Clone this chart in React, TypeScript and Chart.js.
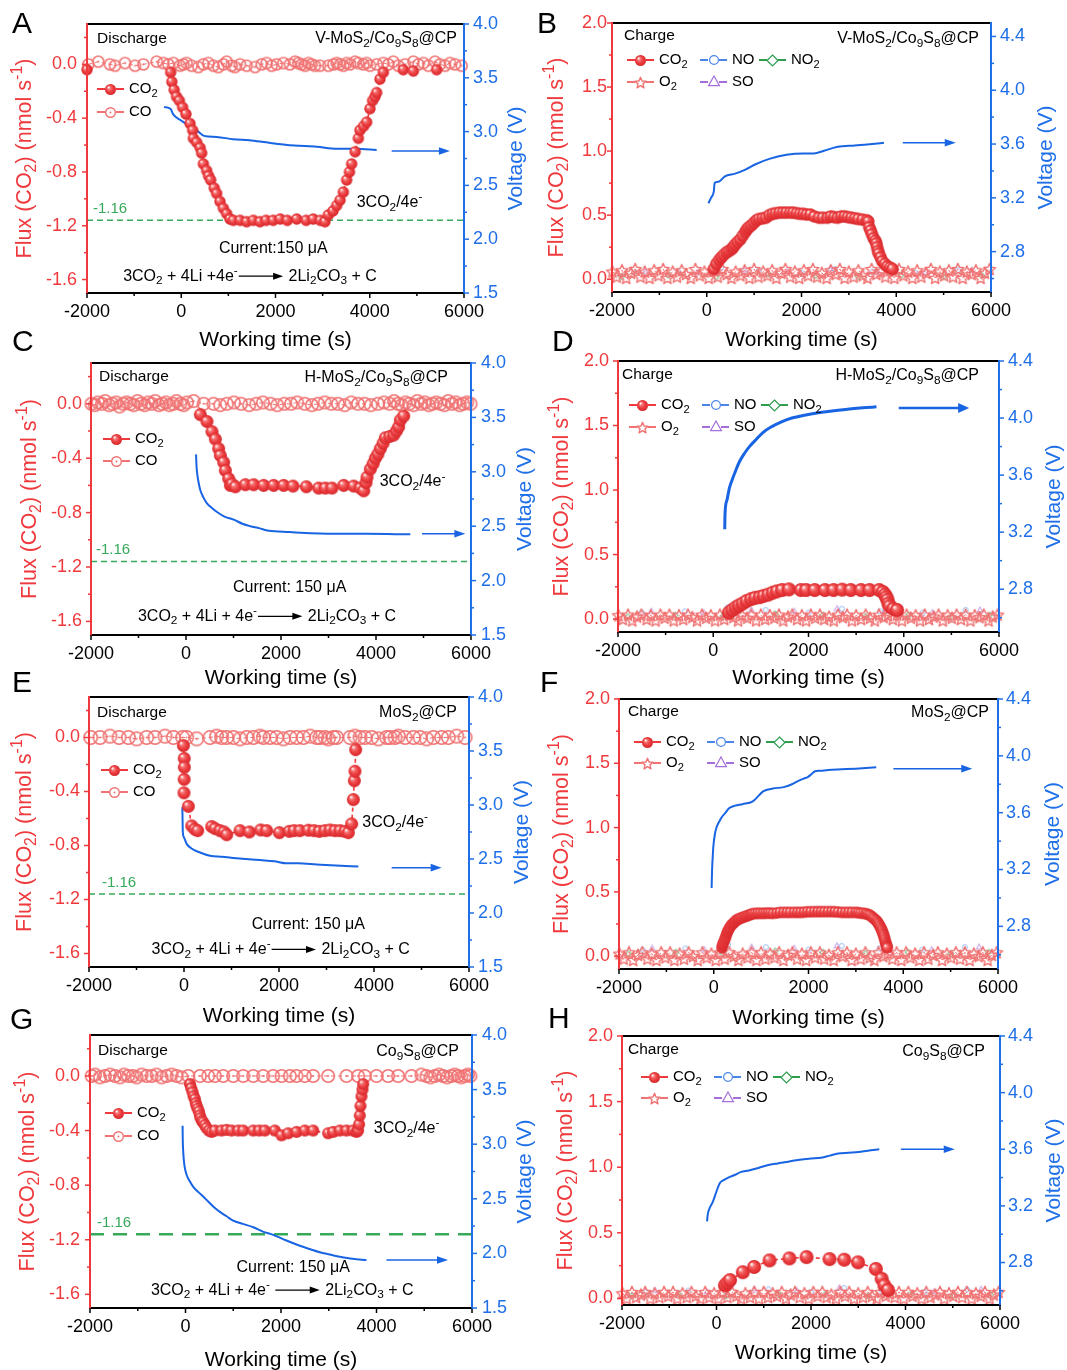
import React, { useEffect, useRef } from 'react';
import { Chart, registerables } from 'chart.js';

Chart.register(...registerables);

const W = 1067;
const H = 1370;
const FONT = '"Liberation Sans", Arial, Helvetica, sans-serif';
const RED = '#ef393c';
const RED_LIGHT = '#f07272';
const BLUE = '#1f6fe8';
const VBLUE = '#1864e2';
const GREEN = '#36a95a';
const NO_BLUE = '#4a86e8';
const NO2_GREEN = '#2e9e4e';
const SO_PURPLE = '#a46fdc';

// ---------- axes ticks ----------
const X_TICKS = [-2000, 0, 2000, 4000, 6000];
const X_MINOR = [-1000, 1000, 3000, 5000];
const DIS_FLUX_TICKS = [-1.6, -1.2, -0.8, -0.4, 0.0];
const DIS_FLUX_MINOR = [-1.4, -1.0, -0.6, -0.2, 0.2];
const DIS_V_TICKS = [1.5, 2.0, 2.5, 3.0, 3.5, 4.0];
const DIS_V_MINOR = [1.75, 2.25, 2.75, 3.25, 3.75];
const CH_FLUX_TICKS = [0, 0.5, 1.0, 1.5, 2.0];
const CH_FLUX_MINOR = [0.25, 0.75, 1.25, 1.75];
const CH_V_TICKS = [2.8, 3.2, 3.6, 4.0, 4.4];
const CH_V_MINOR = [2.6, 3.0, 3.4, 3.8, 4.2];
const REF_FLUX = -1.16;
const REF_SPAN = [-2000, 6000];

// ---------- Panel A : discharge V-MoS2/Co9S8@CP ----------
const A_CO2_T = [-2000,-225,-200,-150,-100,-40,30,100,186,242,256,327,400,433,469,539,580,624,700,751,822,893,964,1034,1105,1250,1388,1530,1671,1800,1950,2100,2250,2450,2650,2800,2950,3050,3121,3220,3298,3369,3439,3510,3570,3616,3690,3758,3793,3870,3934,4005,4060,4111,4146,4217,4288,4712,4925,5420];
const A_CO2_F = [-0.04,-0.06,-0.13,-0.19,-0.24,-0.27,-0.32,-0.37,-0.44,-0.49,-0.55,-0.58,-0.62,-0.66,-0.74,-0.79,-0.83,-0.86,-0.92,-0.96,-1.02,-1.07,-1.11,-1.15,-1.16,-1.16,-1.17,-1.16,-1.17,-1.16,-1.16,-1.15,-1.16,-1.15,-1.16,-1.15,-1.16,-1.17,-1.12,-1.09,-1.05,-1.01,-0.95,-0.86,-0.8,-0.74,-0.65,-0.55,-0.49,-0.46,-0.43,-0.33,-0.27,-0.24,-0.21,-0.11,-0.06,-0.04,-0.05,-0.04];
const A_CO_T = [-1972,-1760,-1512,-1406,-1194,-981,-805,-522,-380,-274,-168,-27,44,115,221,362,468,575,681,787,893,964,1070,1140,1246,1388,1565,1706,1812,1918,2025,2166,2307,2414,2484,2555,2626,2697,2767,2838,2944,3121,3227,3298,3369,3439,3510,3581,3687,3758,3864,3934,4005,4146,4288,4394,4500,4606,4748,4925,5031,5137,5243,5384,5490,5596,5702,5809,5950];
const A_CO_F = [0.0,0.02,0.0,-0.01,0.01,-0.01,0.0,0.02,0.01,0.0,0.01,-0.01,0.0,0.01,-0.01,-0.02,0.0,0.01,-0.01,-0.02,0.0,0.02,-0.01,-0.02,0.0,-0.01,-0.02,0.0,0.01,-0.01,0.0,0.01,0.0,0.02,0.01,0.0,-0.01,0.01,0.0,-0.01,-0.01,-0.01,0.0,0.01,0.0,-0.01,0.01,0.0,0.02,0.01,0.0,0.01,-0.01,0.0,0.01,0.0,0.02,-0.01,0.0,0.02,0.0,0.01,-0.01,0.02,0.0,-0.01,0.01,0.0,-0.01];
const A_V_T = [-366,-225,-170,-27,186,362,483,750,1100,1450,1800,2166,2400,2873,3300,3700,4146];
const A_V_V = [3.23,3.21,3.16,3.11,3.05,3.0,2.96,2.95,2.93,2.92,2.90,2.88,2.87,2.86,2.84,2.84,2.83];
const A_ARROW = [4465, 5702, 2.82];

// ---------- Panel B : charge V-MoS2/Co9S8@CP ----------
const B_CO2_T = [150,202,260,310,360,419,470,527,560,599,650,707,760,816,850,888,940,996,1050,1105,1180,1249,1320,1393,1460,1538,1610,1682,1760,1827,1900,1970,2043,2110,2188,2270,2368,2450,2549,2621,2690,2765,2840,2910,2980,3054,3130,3198,3290,3379,3410,3429,3460,3487,3520,3559,3580,3596,3615,3632,3670,3704,3760,3812,3870,3920];
const B_CO2_F = [0.08,0.12,0.15,0.17,0.19,0.21,0.22,0.235,0.25,0.27,0.29,0.31,0.34,0.37,0.39,0.405,0.42,0.44,0.46,0.47,0.475,0.48,0.5,0.51,0.515,0.52,0.52,0.52,0.52,0.52,0.515,0.51,0.51,0.505,0.505,0.49,0.48,0.48,0.48,0.49,0.485,0.48,0.49,0.49,0.485,0.48,0.475,0.47,0.465,0.46,0.45,0.405,0.38,0.35,0.32,0.30,0.28,0.25,0.22,0.20,0.17,0.14,0.12,0.10,0.09,0.08];
const B_V_T = [36,90,150,166,250,383,599,816,1032,1321,1682,2043,2260,2476,2765,3126,3487,3740];
const B_V_V = [3.16,3.20,3.25,3.31,3.32,3.36,3.38,3.41,3.45,3.49,3.52,3.53,3.53,3.55,3.58,3.59,3.60,3.61];
const B_ARROW = [4137, 5256, 3.61];

// ---------- shared baseline sampling of charge runs (O2 stars) ----------
const CH_O2_T = [-1990,-1900,-1790,-1700,-1600,-1510,-1400,-1310,-1210,-1110,-1020,-920,-830,-720,-630,-530,-440,-340,-240,-150,-50,40,140,230,330,420,520,610,710,800,900,1000,1090,1190,1280,1380,1470,1570,1660,1760,1860,1950,2050,2140,2240,2330,2430,2530,2620,2720,2810,2910,3000,3100,3200,3290,3390,3480,3580,3670,3770,3860,3960,4060,4150,4250,4340,4440,4530,4630,4730,4820,4920,5010,5110,5200,5300,5400,5490,5590,5680,5780,5870,5970];
const B_O2_F = [0.06,0.02,0.07,0.01,0.05,0.08,0.02,0.06,0.01,0.07,0.03,0.08,0.01,0.06,0.02,0.07,0.04,0.01,0.08,0.03,0.06,0.01,0.07,0.02,0.08,0.04,0.01,0.06,0.03,0.07,0.01,0.08,0.02,0.06,0.03,0.07,0.01,0.05,0.08,0.02,0.06,0.01,0.07,0.03,0.08,0.02,0.05,0.01,0.07,0.04,0.08,0.01,0.06,0.02,0.07,0.03,0.01,0.08,0.04,0.06,0.02,0.07,0.01,0.08,0.03,0.06,0.01,0.07,0.02,0.05,0.08,0.01,0.06,0.03,0.07,0.02,0.08,0.01,0.06,0.04,0.07,0.01,0.05,0.08];
const D_O2_F = [0.03,0.0,0.035,-0.01,0.02,0.035,0.0,0.03,-0.01,0.035,0.01,0.035,-0.01,0.03,0.0,0.035,0.015,-0.01,0.035,0.01,0.03,-0.01,0.035,0.0,0.035,0.015,-0.01,0.03,0.01,0.035,-0.01,0.035,0.0,0.03,0.01,0.035,-0.01,0.02,0.035,0.0,0.03,-0.01,0.035,0.01,0.035,0.0,0.02,-0.01,0.035,0.015,0.035,-0.01,0.03,0.0,0.035,0.01,-0.01,0.035,0.015,0.03,0.0,0.035,-0.01,0.035,0.01,0.03,-0.01,0.035,0.0,0.02,0.035,-0.01,0.03,0.01,0.035,0.0,0.035,-0.01,0.03,0.015,0.035,-0.01,0.02,0.035];
const F_O2_F = [0.02,-0.02,0.03,-0.03,0.01,0.03,-0.02,0.02,-0.03,0.03,-0.01,0.03,-0.03,0.02,-0.02,0.03,0.0,-0.03,0.03,-0.01,0.02,-0.03,0.03,-0.02,0.03,0.0,-0.03,0.02,-0.01,0.03,-0.03,0.03,-0.02,0.02,-0.01,0.03,-0.03,0.01,0.03,-0.02,0.02,-0.03,0.03,-0.01,0.03,-0.02,0.01,-0.03,0.03,0.0,0.03,-0.03,0.02,-0.02,0.03,-0.01,-0.03,0.03,0.0,0.02,-0.02,0.03,-0.03,0.03,-0.01,0.02,-0.03,0.03,-0.02,0.01,0.03,-0.03,0.02,-0.01,0.03,-0.02,0.03,-0.03,0.02,0.0,0.03,-0.03,0.01,0.03];
const H_O2_F = [0.04,0.0,0.05,0.01,0.03,0.05,0.0,0.04,0.01,0.05,0.02,0.05,0.0,0.04,0.01,0.05,0.02,0.0,0.05,0.01,0.04,0.0,0.05,0.01,0.05,0.02,0.0,0.04,0.01,0.05,0.0,0.05,0.01,0.04,0.02,0.05,0.0,0.03,0.05,0.01,0.04,0.0,0.05,0.02,0.05,0.01,0.03,0.0,0.05,0.02,0.05,0.0,0.04,0.01,0.05,0.02,0.0,0.05,0.02,0.04,0.01,0.05,0.0,0.05,0.02,0.04,0.0,0.05,0.01,0.03,0.05,0.0,0.04,0.02,0.05,0.01,0.05,0.0,0.04,0.02,0.05,0.0,0.03,0.05];
const NO_T = [-1500,-600,300,1100,2000,2700,3500,4400,5300];
const NO_F = [0.05,0.06,0.09,0.07,0.05,0.08,0.06,0.05,0.07];
const NO2_T = [-1800,-800,200,1300,2300,3200,4100,5000,5800];
const NO2_F = [0.02,0.03,0.02,0.04,0.03,0.02,0.03,0.02,0.03];
const SO_T = [-1300,-200,800,1700,2600,3600,4600,5600];
const SO_F = [0.06,0.05,0.07,0.06,0.08,0.06,0.05,0.07];

// ---------- Panel C : discharge H-MoS2/Co9S8@CP ----------
const C_CO2_T = [302,442,547,618,688,723,793,828,898,933,969,1039,1249,1425,1635,1846,2056,2253,2534,2793,2934,3074,3320,3530,3671,3741,3790,3811,3881,3940,3986,4040,4092,4150,4197,4290,4372,4430,4477,4513,4583];
const C_CO2_F = [-0.08,-0.13,-0.205,-0.26,-0.33,-0.38,-0.43,-0.49,-0.55,-0.6,-0.59,-0.61,-0.595,-0.595,-0.6,-0.6,-0.6,-0.605,-0.61,-0.62,-0.62,-0.62,-0.6,-0.605,-0.62,-0.64,-0.58,-0.54,-0.48,-0.44,-0.40,-0.37,-0.33,-0.29,-0.25,-0.24,-0.23,-0.2,-0.17,-0.12,-0.09];
const C_CO_T = [-1990,-1920,-1850,-1770,-1700,-1620,-1550,-1470,-1400,-1320,-1250,-1170,-1100,-1020,-950,-870,-800,-720,-650,-570,-500,-420,-350,-270,-200,-120,-50,20,160,370,580,720,860,1010,1160,1330,1480,1620,1780,1920,2070,2210,2340,2500,2650,2780,2920,3060,3200,3340,3480,3620,3760,3890,4040,4170,4290,4380,4460,4540,4620,4700,4790,4870,4950,5030,5110,5190,5270,5360,5440,5520,5600,5680,5760,5840,5920,5990];
const C_CO_F = [0.0,-0.01,0.01,0.0,0.02,-0.01,0.0,0.01,-0.02,0.0,0.01,0.0,-0.01,0.02,0.0,-0.01,0.01,0.0,0.02,-0.01,0.0,0.01,-0.01,0.0,0.02,0.0,-0.01,0.01,0.02,0.0,0.0,-0.01,0.0,0.01,0.0,-0.01,0.0,0.01,0.0,-0.01,0.0,0.0,0.01,0.0,-0.01,0.0,0.01,0.0,0.0,-0.01,0.01,0.0,0.0,-0.01,0.0,0.01,0.0,0.02,0.0,-0.01,0.01,0.0,-0.01,0.02,0.0,0.01,-0.01,0.0,0.01,0.0,-0.01,0.02,0.0,0.01,-0.01,0.0,0.01,0.0];
const C_V_T = [211,222,240,270,302,360,442,540,653,800,1004,1200,1355,1550,1706,2056,2407,3109,3811,4723];
const C_V_V = [3.16,3.05,2.97,2.89,2.83,2.77,2.71,2.67,2.63,2.59,2.56,2.52,2.50,2.48,2.46,2.45,2.44,2.43,2.43,2.425];
const C_ARROW = [4969, 5881, 2.43];

// ---------- Panel D : charge H-MoS2/Co9S8@CP ----------
const D_CO2_T = [328,400,472,540,616,700,796,880,976,1060,1157,1250,1337,1445,1589,1841,1950,2130,2346,2526,2706,2886,3103,3283,3485,3560,3607,3635,3658,3680,3701,3780,3859];
const D_CO2_F = [0.05,0.07,0.09,0.105,0.12,0.14,0.155,0.165,0.17,0.18,0.19,0.205,0.215,0.225,0.23,0.225,0.225,0.225,0.225,0.225,0.228,0.225,0.225,0.225,0.225,0.21,0.19,0.17,0.15,0.12,0.10,0.08,0.07];
const D_V_T = [241,245,255,292,340,400,470,544,650,760,900,1049,1230,1409,1650,1913,2274,2778,3427];
const D_V_V = [3.22,3.30,3.37,3.43,3.51,3.57,3.63,3.69,3.75,3.80,3.85,3.90,3.94,3.97,4.00,4.02,4.04,4.06,4.08];
const D_ARROW = [3895, 5373, 4.07];

// ---------- Panel E : discharge MoS2@CP ----------
const E_CO2_T = [-14,5,7,3,0,91,162,230,288,583,653,758,843,899,1179,1376,1614,1741,2007,2217,2316,2442,2618,2737,2849,2968,3074,3180,3285,3390,3460,3530,3565,3586,3600,3614];
const E_CO2_F = [-0.06,-0.155,-0.22,-0.31,-0.41,-0.51,-0.655,-0.68,-0.69,-0.66,-0.675,-0.69,-0.7,-0.72,-0.69,-0.7,-0.685,-0.69,-0.705,-0.695,-0.69,-0.69,-0.687,-0.69,-0.695,-0.69,-0.685,-0.69,-0.69,-0.695,-0.705,-0.64,-0.46,-0.32,-0.25,-0.09];
const E_CO_T = [-1965,-1768,-1558,-1368,-1172,-996,-786,-610,-400,-224,-28,56,267,548,688,793,898,1039,1179,1320,1460,1600,1671,1811,1951,2091,2232,2372,2513,2653,2793,2863,2969,3039,3144,3214,3495,3600,3706,3811,3951,4092,4267,4337,4443,4513,4653,4829,4969,5109,5250,5425,5565,5741,5916];
const E_CO_F = [0.0,0.0,0.01,0.0,0.0,-0.01,0.0,0.0,0.01,0.0,0.0,0.0,-0.01,0.0,0.01,0.0,0.0,0.0,-0.01,0.0,0.0,0.01,0.0,0.0,0.0,-0.01,0.0,0.0,0.0,0.01,0.0,0.0,0.0,-0.01,0.0,0.0,0.0,0.01,0.0,0.0,0.0,-0.01,0.0,0.0,0.0,0.01,0.0,0.0,0.0,-0.01,0.0,0.0,0.0,0.01,0.0];
const E_V_T = [-35,-30,-25,0,56,150,337,548,800,1039,1300,1600,1900,2161,2400,2793,3200,3670];
const E_V_V = [2.98,2.86,2.75,2.70,2.64,2.60,2.56,2.53,2.52,2.51,2.50,2.49,2.48,2.46,2.46,2.45,2.44,2.43];
const E_ARROW = [4372, 5425, 2.42];

// ---------- Panel F : charge MoS2@CP ----------
const F_CO2_T = [172,186,200,222,244,262,280,298,317,343,370,398,425,452,480,507,534,567,600,640,679,715,750,787,824,877,930,985,1041,1095,1150,1200,1258,1330,1400,1475,1548,1620,1700,1770,1837,1910,1980,2050,2127,2200,2270,2340,2416,2490,2560,2630,2706,2780,2850,2920,2996,3050,3100,3160,3213,3250,3290,3325,3358,3390,3420,3445,3466,3485,3505,3522,3539,3552,3565,3577,3589,3600,3612,3622,3633,3642,3650,3656,3662];
const F_CO2_F = [0.065,0.085,0.1,0.12,0.14,0.16,0.18,0.195,0.21,0.225,0.24,0.25,0.26,0.27,0.28,0.285,0.29,0.295,0.30,0.305,0.31,0.315,0.32,0.325,0.33,0.332,0.333,0.333,0.333,0.334,0.335,0.334,0.333,0.336,0.34,0.34,0.34,0.34,0.34,0.34,0.34,0.342,0.345,0.345,0.346,0.346,0.346,0.346,0.346,0.346,0.345,0.343,0.34,0.34,0.34,0.34,0.34,0.338,0.335,0.333,0.33,0.325,0.32,0.31,0.30,0.29,0.28,0.27,0.26,0.248,0.235,0.222,0.21,0.198,0.185,0.172,0.16,0.145,0.13,0.115,0.10,0.09,0.08,0.072,0.065];
const F_V_T = [-45,-35,-20,-9,30,63,120,172,250,317,450,606,824,950,1041,1250,1475,1650,1765,1900,1982,2060,2127,2250,2416,2700,2996,3430];
const F_V_V = [3.07,3.20,3.30,3.36,3.46,3.50,3.54,3.57,3.60,3.63,3.65,3.66,3.68,3.72,3.75,3.77,3.78,3.80,3.82,3.84,3.85,3.87,3.89,3.895,3.90,3.905,3.91,3.92];
const F_ARROW = [3792, 5457, 3.91];

// ---------- Panel G : discharge Co9S8@CP ----------
const G_CO2_T = [93,120,148,170,197,215,232,255,281,300,316,345,372,405,441,490,546,616,755,860,964,1104,1209,1418,1543,1662,1871,2011,2150,2325,2499,2673,2987,3092,3231,3371,3510,3580,3615,3636,3650,3664,3685,3706,3720];
const G_CO2_F = [-0.06,-0.09,-0.12,-0.15,-0.17,-0.2,-0.22,-0.24,-0.26,-0.29,-0.31,-0.33,-0.34,-0.36,-0.38,-0.40,-0.41,-0.40,-0.40,-0.395,-0.40,-0.40,-0.40,-0.40,-0.40,-0.40,-0.40,-0.435,-0.42,-0.41,-0.40,-0.40,-0.42,-0.41,-0.40,-0.40,-0.40,-0.41,-0.40,-0.355,-0.29,-0.22,-0.15,-0.10,-0.06];
const G_CO_T = [-1965,-1895,-1791,-1686,-1581,-1477,-1372,-1289,-1198,-1107,-1023,-919,-814,-710,-605,-500,-396,-291,-187,-82,58,302,476,616,790,999,1209,1418,1627,1836,2011,2185,2325,2499,2673,2987,3371,3615,3755,3999,4243,4452,4731,4940,5045,5128,5219,5310,5394,5477,5568,5637,5707,5777,5847,5916,5965];
const G_CO_F = [0.0,0.01,-0.01,0.0,0.01,0.0,-0.01,0.01,0.0,0.0,-0.01,0.01,0.0,0.0,0.01,-0.01,0.0,0.01,0.0,-0.01,0.0,0.0,0.0,0.0,0.0,0.0,0.0,0.0,0.0,0.0,0.0,0.0,0.0,0.0,0.0,0.0,0.0,0.0,0.0,0.0,0.0,0.0,0.0,0.01,0.0,-0.01,0.0,0.01,0.0,-0.01,0.0,0.01,0.0,-0.01,0.0,0.01,0.0];
const G_V_T = [-61,-58,-50,-40,-20,23,90,162,300,441,580,720,860,999,1200,1418,1620,1836,2100,2394,2600,2813,3020,3231,3500,3789];
const G_V_V = [3.17,3.05,2.95,2.88,2.80,2.72,2.66,2.61,2.55,2.49,2.43,2.38,2.34,2.30,2.27,2.24,2.20,2.17,2.12,2.07,2.04,2.01,1.99,1.97,1.95,1.94];
const G_ARROW = [4208, 5498, 1.94];

// ---------- Panel H : charge Co9S8@CP ----------
const H_CO2_T = [178,230,287,556,795,1122,1543,1906,2392,2704,2995,3372,3496,3554,3627];
const H_CO2_F = [0.10,0.12,0.14,0.20,0.24,0.29,0.305,0.315,0.30,0.295,0.275,0.225,0.15,0.10,0.065];
const H_V_T = [-200,-185,-150,-76,-3,69,142,250,396,520,686,900,1122,1300,1485,1650,1848,2000,2211,2400,2574,2800,3009,3200,3445];
const H_V_V = [3.09,3.14,3.18,3.23,3.30,3.36,3.38,3.40,3.42,3.44,3.45,3.47,3.49,3.50,3.51,3.52,3.53,3.535,3.54,3.555,3.57,3.575,3.58,3.59,3.60];
const H_ARROW = [3902, 5042, 3.60];

// ---------- panel layout / text configuration ----------
const PANELS: any[] = [
  { letter: 'A', lx: 12, ly: 25, box: [87, 24, 464, 293], kind: 'd', yl: [-1.7, 0.3], yr: [1.5, 4.0],
    sample: 'V-MoS_{2}/Co_{9}S_{8}@CP', sDx: -7, sDy: 15, mDx: 10, mDy: 15, legDx: 10, legDy: 65, legGap: 23,
    tlDx: -10, trDx: 9, ltDx: -62, rtDx: 52, xtDy: 47,
    co2T: A_CO2_T, co2F: A_CO2_F, vT: A_V_T, vV: A_V_V, arrow: A_ARROW, bgT: A_CO_T, bgF: A_CO_F,
    ballR: 5.7, bgR: 6.3, vW: 2, arrowW: 1.5, refW: 1.5, refDash: [6, 4], refDx: 6, refDy: -12,
    ratioAt: [3723, -1.03], current: 'Current:150 μA', currentAt: [1954, -1.37],
    eq: '3CO_{2} + 4Li +4e^{-}{->} 2Li_{2}CO_{3} + C', eqAt: [1459, -1.575] },
  { letter: 'B', lx: 537, ly: 25, box: [612, 23, 991, 292], kind: 'c', yl: [-0.1, 2.0], yr: [2.5, 4.5],
    sample: 'V-MoS_{2}/Co_{9}S_{8}@CP', sDx: -12, sDy: 16, mDx: 12, mDy: 13, legDx: 15, legDy: 37, legGap: 22,
    tlDx: -5, trDx: 9, ltDx: -55, rtDx: 55, xtDy: 48,
    co2T: B_CO2_T, co2F: B_CO2_F, vT: B_V_T, vV: B_V_V, arrow: B_ARROW, bgT: CH_O2_T, bgF: B_O2_F,
    ballR: 6.2, bgR: 7, vW: 2, arrowW: 1.5 },
  { letter: 'C', lx: 12, ly: 343, box: [91, 363, 471, 635], kind: 'd', yl: [-1.7, 0.3], yr: [1.5, 4.0],
    sample: 'H-MoS_{2}/Co_{9}S_{8}@CP', sDx: -23, sDy: 15, mDx: 8, mDy: 14, legDx: 12, legDy: 76, legGap: 22,
    tlDx: -9, trDx: 10, ltDx: -61, rtDx: 54, xtDy: 43,
    co2T: C_CO2_T, co2F: C_CO2_F, vT: C_V_T, vV: C_V_V, arrow: C_ARROW, bgT: C_CO_T, bgF: C_CO_F,
    ballR: 6.5, bgR: 7, vW: 2, arrowW: 1.5, refW: 1.5, refDash: [6, 4], refDx: 5, refDy: -12,
    ratioAt: [4078, -0.575], current: 'Current: 150 μA', currentAt: [2183, -1.348],
    eq: '3CO_{2} + 4Li + 4e^{-}{->} 2Li_{2}CO_{3} + C', eqAt: [1706, -1.563] },
  { letter: 'D', lx: 552, ly: 343, box: [618, 361, 999, 632], kind: 'c', yl: [-0.1, 2.0], yr: [2.5, 4.4],
    sample: 'H-MoS_{2}/Co_{9}S_{8}@CP', sDx: -20, sDy: 15, mDx: 4, mDy: 14, legDx: 11, legDy: 44, legGap: 22,
    tlDx: -9, trDx: 9, ltDx: -56, rtDx: 55, xtDy: 46,
    co2T: D_CO2_T, co2F: D_CO2_F, vT: D_V_T, vV: D_V_V, arrow: D_ARROW, bgT: CH_O2_T, bgF: D_O2_F,
    ballR: 7, bgR: 7, vW: 3, arrowW: 2.5 },
  { letter: 'E', lx: 12, ly: 684, box: [89, 697, 469, 967], kind: 'd', yl: [-1.7, 0.3], yr: [1.5, 4.0],
    sample: 'MoS_{2}@CP', sDx: -12, sDy: 16, mDx: 8, mDy: 16, legDx: 12, legDy: 73, legGap: 22,
    tlDx: -9, trDx: 9, ltDx: -64, rtDx: 53, xtDy: 49,
    co2T: E_CO2_T, co2F: E_CO2_F, vT: E_V_T, vV: E_V_V, arrow: E_ARROW, bgT: E_CO_T, bgF: E_CO_F,
    ballR: 6.5, bgR: 7.5, vW: 2, arrowW: 1.5, refW: 1.5, refDash: [6, 4], refDx: 13, refDy: -11,
    ratioAt: [3755, -0.63], current: 'Current: 150 μA', currentAt: [2618, -1.385],
    eq: '3CO_{2} + 4Li + 4e^{-}{->} 2Li_{2}CO_{3} + C', eqAt: [2035, -1.57] },
  { letter: 'F', lx: 540, ly: 684, box: [619, 699, 998, 969], kind: 'c', yl: [-0.1, 2.0], yr: [2.5, 4.4],
    sample: 'MoS_{2}@CP', sDx: -9, sDy: 14, mDx: 9, mDy: 13, legDx: 15, legDy: 43, legGap: 21,
    tlDx: -9, trDx: 8, ltDx: -57, rtDx: 55, xtDy: 49,
    co2T: F_CO2_T, co2F: F_CO2_F, vT: F_V_T, vV: F_V_V, arrow: F_ARROW, bgT: CH_O2_T, bgF: F_O2_F,
    ballR: 5.7, bgR: 7, vW: 2, arrowW: 1.5 },
  { letter: 'G', lx: 10, ly: 1021, box: [90, 1035, 472, 1308], kind: 'd', yl: [-1.7, 0.3], yr: [1.5, 4.0],
    sample: 'Co_{9}S_{8}@CP', sDx: -13, sDy: 17, mDx: 8, mDy: 16, legDx: 15, legDy: 78, legGap: 23,
    tlDx: -10, trDx: 10, ltDx: -62, rtDx: 53, xtDy: 52,
    co2T: G_CO2_T, co2F: G_CO2_F, vT: G_V_T, vV: G_V_V, arrow: G_ARROW, bgT: G_CO_T, bgF: G_CO_F,
    ballR: 6, bgR: 7, vW: 2, arrowW: 1.5, refW: 2.5, refDash: [14, 9], refDx: 7, refDy: -11,
    ratioAt: [3943, -0.385], current: 'Current: 150 μA', currentAt: [2255, -1.402],
    eq: '3CO_{2} + 4Li + 4e^{-} {->} 2Li_{2}CO_{3} + C', eqAt: [2025, -1.569] },
  { letter: 'H', lx: 548, ly: 1020, box: [622, 1036, 1000, 1305], kind: 'c', yl: [-0.05, 2.0], yr: [2.5, 4.4],
    sample: 'Co_{9}S_{8}@CP', sDx: -15, sDy: 16, mDx: 6, mDy: 14, legDx: 19, legDy: 41, legGap: 21,
    tlDx: -9, trDx: 8, ltDx: -56, rtDx: 54, xtDy: 48,
    co2T: H_CO2_T, co2F: H_CO2_F, vT: H_V_T, vV: H_V_V, arrow: H_ARROW, bgT: CH_O2_T, bgF: H_O2_F,
    ballR: 7, bgR: 7, vW: 2, arrowW: 1.5 },
];

// ---------- drawing helpers ----------
function makeCanvas(r: number, draw: (g: CanvasRenderingContext2D, m: number) => void) {
  const s = Math.ceil(r * 2 + 4);
  const c = document.createElement('canvas');
  c.width = s;
  c.height = s;
  const g = c.getContext('2d') as CanvasRenderingContext2D;
  draw(g, s / 2);
  return c;
}
function ballImg(r: number) {
  return makeCanvas(r, (g, m) => {
    const grd = g.createRadialGradient(m - r * 0.38, m - r * 0.42, r * 0.06, m, m, r);
    grd.addColorStop(0, '#fff0f0');
    grd.addColorStop(0.3, '#f46a6a');
    grd.addColorStop(0.65, '#ea3a3d');
    grd.addColorStop(1, '#d6282c');
    g.fillStyle = grd;
    g.beginPath();
    g.arc(m, m, r, 0, Math.PI * 2);
    g.fill();
  });
}
function ringImg(r: number, color: string, dot: boolean, lw = 1.6) {
  return makeCanvas(r, (g, m) => {
    g.strokeStyle = color;
    g.lineWidth = lw;
    g.beginPath();
    g.arc(m, m, r - lw / 2, 0, Math.PI * 2);
    g.stroke();
    if (dot) {
      g.fillStyle = color;
      g.beginPath();
      g.arc(m, m, 1, 0, Math.PI * 2);
      g.fill();
    }
  });
}
function starImg(r: number, color: string) {
  return makeCanvas(r, (g, m) => {
    g.strokeStyle = color;
    g.lineWidth = 1.4;
    g.lineJoin = 'round';
    g.beginPath();
    for (let i = 0; i < 10; i++) {
      const a = -Math.PI / 2 + (i * Math.PI) / 5;
      const rr = i % 2 === 0 ? r - 0.7 : (r - 0.7) * 0.45;
      const px = m + rr * Math.cos(a);
      const py = m + 0.6 + rr * Math.sin(a);
      if (i === 0) g.moveTo(px, py);
      else g.lineTo(px, py);
    }
    g.closePath();
    g.stroke();
  });
}
function diamondImg(r: number, color: string) {
  return makeCanvas(r, (g, m) => {
    g.strokeStyle = color;
    g.lineWidth = 1.2;
    g.beginPath();
    g.moveTo(m, m - r);
    g.lineTo(m + r, m);
    g.lineTo(m, m + r);
    g.lineTo(m - r, m);
    g.closePath();
    g.stroke();
  });
}
function triImg(r: number, color: string) {
  return makeCanvas(r, (g, m) => {
    g.strokeStyle = color;
    g.lineWidth = 1.2;
    g.beginPath();
    g.moveTo(m, m - r);
    g.lineTo(m + r * 0.9, m + r * 0.6);
    g.lineTo(m - r * 0.9, m + r * 0.6);
    g.closePath();
    g.stroke();
  });
}

function parseRich(s: string) {
  const out: { k: string; t: string }[] = [];
  const re = /_\{([^}]*)\}|\^\{([^}]*)\}|\{->\}/g;
  let last = 0;
  let m: RegExpExecArray | null;
  while ((m = re.exec(s))) {
    if (m.index > last) out.push({ k: 'n', t: s.slice(last, m.index) });
    if (m[0] === '{->}') out.push({ k: 'a', t: '' });
    else if (m[0][0] === '_') out.push({ k: 'sub', t: m[1] });
    else out.push({ k: 'sup', t: m[2] });
    last = re.lastIndex;
  }
  if (last < s.length) out.push({ k: 'n', t: s.slice(last) });
  return out;
}

function rich(ctx: CanvasRenderingContext2D, s: string, x: number, y: number, size: number, color: string, align = 'left') {
  const parts = parseRich(s);
  const small = size * 0.74;
  const widths = parts.map((p) => {
    if (p.k === 'a') return size * 2.9;
    ctx.font = `${p.k === 'n' ? size : small}px ${FONT}`;
    return ctx.measureText(p.t).width;
  });
  const total = widths.reduce((a, b) => a + b, 0);
  let cx = align === 'left' ? x : align === 'center' ? x - total / 2 : x - total;
  ctx.fillStyle = color;
  ctx.strokeStyle = color;
  ctx.textBaseline = 'middle';
  ctx.textAlign = 'left';
  parts.forEach((p, i) => {
    const w = widths[i];
    if (p.k === 'a') {
      ctx.lineWidth = 1.3;
      ctx.setLineDash([]);
      ctx.beginPath();
      ctx.moveTo(cx + 1, y);
      ctx.lineTo(cx + w - 8, y);
      ctx.stroke();
      ctx.beginPath();
      ctx.moveTo(cx + w - 1, y);
      ctx.lineTo(cx + w - 11, y - 3.5);
      ctx.lineTo(cx + w - 11, y + 3.5);
      ctx.closePath();
      ctx.fill();
    } else {
      ctx.font = `${p.k === 'n' ? size : small}px ${FONT}`;
      const dy = p.k === 'sub' ? size * 0.3 : p.k === 'sup' ? -size * 0.36 : 0;
      ctx.fillText(p.t, cx, y + dy);
    }
    cx += w;
  });
}

function seg(ctx: CanvasRenderingContext2D, x1: number, y1: number, x2: number, y2: number, color: string, w: number) {
  ctx.strokeStyle = color;
  ctx.lineWidth = w;
  ctx.setLineDash([]);
  ctx.beginPath();
  ctx.moveTo(x1, y1);
  ctx.lineTo(x2, y2);
  ctx.stroke();
}

function vtext(ctx: CanvasRenderingContext2D, s: string, x: number, y: number, size: number, color: string) {
  ctx.save();
  ctx.translate(x, y);
  ctx.rotate(-Math.PI / 2);
  rich(ctx, s, 0, 0, size, color, 'center');
  ctx.restore();
}

function legendItem(ctx: CanvasRenderingContext2D, x: number, y: number, color: string, marker: HTMLCanvasElement, label: string) {
  seg(ctx, x, y, x + 8, y, color, 2);
  seg(ctx, x + 19, y, x + 27, y, color, 2);
  ctx.drawImage(marker, Math.round(x + 13.5 - marker.width / 2), Math.round(y - marker.height / 2));
  rich(ctx, label, x + 32, y, 15, '#000', 'left');
}

function pts(T: number[], F: number[]) {
  return T.map((x, i) => ({ x, y: F[i] ?? 0 }));
}

function buildConfig(P: any) {
  const disc = P.kind === 'd';
  const ball = ballImg(P.ballR);
  const bg = disc ? ringImg(P.bgR, RED_LIGHT, true) : starImg(P.bgR, RED_LIGHT);
  const legBall = ballImg(5.5);
  const legRing = ringImg(5.5, RED_LIGHT, true, 1.4);
  const legStar = starImg(6.5, RED_LIGHT);
  const legNO = ringImg(5, NO_BLUE, false, 1.2);
  const legNO2 = diamondImg(5.5, NO2_GREEN);
  const legSO = triImg(6, SO_PURPLE);
  const [l, t, r, b] = P.box;
  const co2F = P.co2F;

  const datasets: any[] = [
    { data: pts(P.co2T, P.co2F), yAxisID: 'yL', borderColor: RED, borderWidth: 1.6, borderDash: [4, 3],
      pointStyle: ball, pointRadius: P.ballR, clip: 8,
      segment: {
        borderColor: (c: any) =>
          Math.abs(co2F[c.p0DataIndex] ?? 0) < 0.07 && Math.abs(co2F[c.p1DataIndex] ?? 0) < 0.07 ? 'rgba(0,0,0,0)' : undefined,
      } },
    { data: pts(P.vT, P.vV), yAxisID: 'yR', borderColor: VBLUE, borderWidth: P.vW, pointRadius: 0,
      cubicInterpolationMode: 'monotone' },
    { data: pts(P.bgT, P.bgF), yAxisID: 'yL', borderColor: RED_LIGHT, borderWidth: 1, borderDash: [4, 3],
      pointStyle: bg, pointRadius: P.bgR, clip: 8 },
  ];
  if (disc) {
    datasets.push({ data: REF_SPAN.map((x) => ({ x, y: REF_FLUX })), yAxisID: 'yL', borderColor: GREEN,
      borderWidth: P.refW, borderDash: P.refDash, pointRadius: 0 });
  } else {
    datasets.push({ data: pts(NO_T, NO_F), yAxisID: 'yL', showLine: false,
      pointStyle: ringImg(3, 'rgba(90,150,240,0.6)', false, 1), pointRadius: 3 });
    datasets.push({ data: pts(NO2_T, NO2_F), yAxisID: 'yL', showLine: false,
      pointStyle: diamondImg(3, 'rgba(60,170,90,0.6)'), pointRadius: 3 });
    datasets.push({ data: pts(SO_T, SO_F), yAxisID: 'yL', showLine: false,
      pointStyle: triImg(3, 'rgba(170,120,220,0.6)'), pointRadius: 3 });
  }

  const decor = {
    id: 'decor' + P.letter,
    afterDatasetsDraw(chart: any) {
      const ctx = chart.ctx as CanvasRenderingContext2D;
      const ca = chart.chartArea;
      const L = ca.left, R = ca.right, T = ca.top, B = ca.bottom;
      const sx = chart.scales.x, yl = chart.scales.yL, yr = chart.scales.yR;
      ctx.save();
      // blue arrow pointing to voltage axis
      const ay = yr.getPixelForValue(P.arrow[2]);
      const a1 = sx.getPixelForValue(P.arrow[0]);
      const a2 = sx.getPixelForValue(P.arrow[1]);
      seg(ctx, a1, ay, a2 - 8, ay, VBLUE, P.arrowW);
      ctx.fillStyle = VBLUE;
      ctx.beginPath();
      ctx.moveTo(a2, ay);
      ctx.lineTo(a2 - 11, ay - (P.arrowW > 2 ? 5 : 3.8));
      ctx.lineTo(a2 - 11, ay + (P.arrowW > 2 ? 5 : 3.8));
      ctx.closePath();
      ctx.fill();

      // frame
      seg(ctx, L - 1, T, R + 1, T, '#000', 2);
      seg(ctx, L - 1, B, R + 1, B, '#000', 2);
      seg(ctx, L, T - 1, L, B + 1, RED, 2);
      seg(ctx, R, T - 1, R, B + 1, BLUE, 2);

      // x ticks
      X_TICKS.forEach((v) => {
        const px = sx.getPixelForValue(v);
        seg(ctx, px, B, px, B + 5, '#000', 1.5);
        rich(ctx, String(v), px, B + 19, 18, '#000', 'center');
      });
      X_MINOR.forEach((v) => {
        const px = sx.getPixelForValue(v);
        seg(ctx, px, B, px, B + 3, '#000', 1.5);
      });
      // left ticks
      const lt = disc ? DIS_FLUX_TICKS : CH_FLUX_TICKS;
      const lm = disc ? DIS_FLUX_MINOR : CH_FLUX_MINOR;
      lt.forEach((v) => {
        const py = yl.getPixelForValue(v);
        seg(ctx, L, py, L - 5, py, RED, 1.5);
        rich(ctx, v.toFixed(1), L + P.tlDx, py, 18, RED, 'right');
      });
      lm.forEach((v) => {
        const py = yl.getPixelForValue(v);
        if (py > T && py < B) seg(ctx, L, py, L - 3, py, RED, 1.5);
      });
      // right ticks
      const rt = disc ? DIS_V_TICKS : CH_V_TICKS;
      const rm = disc ? DIS_V_MINOR : CH_V_MINOR;
      rt.forEach((v) => {
        const py = yr.getPixelForValue(v);
        seg(ctx, R, py, R + 5, py, BLUE, 1.5);
        rich(ctx, v.toFixed(1), R + P.trDx, py, 18, BLUE, 'left');
      });
      rm.forEach((v) => {
        const py = yr.getPixelForValue(v);
        if (py > T && py < B) seg(ctx, R, py, R + 3, py, BLUE, 1.5);
      });

      // axis titles
      vtext(ctx, 'Flux (CO_{2}) (nmol s^{-1})', L + P.ltDx, (T + B) / 2, 21.5, RED);
      vtext(ctx, 'Voltage (V)', R + P.rtDx, (T + B) / 2, 21, BLUE);
      rich(ctx, 'Working time (s)', (L + R) / 2, B + P.xtDy, 21, '#000', 'center');

      // panel letter
      ctx.font = `30px ${FONT}`;
      ctx.fillStyle = '#000';
      ctx.textAlign = 'left';
      ctx.textBaseline = 'middle';
      ctx.fillText(P.letter, P.lx, P.ly);

      // labels inside frame
      rich(ctx, disc ? 'Discharge' : 'Charge', L + P.mDx, T + P.mDy, 15.5, '#000', 'left');
      rich(ctx, P.sample, R + P.sDx, T + P.sDy, 16, '#000', 'right');

      // legend
      const gx = L + P.legDx, gy = T + P.legDy, gg = P.legGap;
      if (disc) {
        legendItem(ctx, gx, gy, RED, legBall, 'CO_{2}');
        legendItem(ctx, gx, gy + gg, RED_LIGHT, legRing, 'CO');
      } else {
        legendItem(ctx, gx, gy, RED, legBall, 'CO_{2}');
        legendItem(ctx, gx + 73, gy, NO_BLUE, legNO, 'NO');
        legendItem(ctx, gx + 132, gy, NO2_GREEN, legNO2, 'NO_{2}');
        legendItem(ctx, gx, gy + gg, RED_LIGHT, legStar, 'O_{2}');
        legendItem(ctx, gx + 73, gy + gg, SO_PURPLE, legSO, 'SO');
      }

      if (disc) {
        const ry = yl.getPixelForValue(REF_FLUX);
        rich(ctx, '-1.16', L + P.refDx, ry + P.refDy, 15, GREEN, 'left');
        rich(ctx, '3CO_{2}/4e^{-}', sx.getPixelForValue(P.ratioAt[0]), yl.getPixelForValue(P.ratioAt[1]), 16, '#000', 'left');
        rich(ctx, P.current, sx.getPixelForValue(P.currentAt[0]), yl.getPixelForValue(P.currentAt[1]), 16, '#000', 'center');
        rich(ctx, P.eq, sx.getPixelForValue(P.eqAt[0]), yl.getPixelForValue(P.eqAt[1]), 16, '#000', 'center');
      }
      ctx.restore();
    },
  };

  return {
    type: 'line',
    data: { datasets },
    options: {
      animation: false,
      responsive: false,
      events: [],
      layout: { padding: { left: l, top: t, right: W - r, bottom: H - b } },
      scales: {
        x: { type: 'linear', min: -2000, max: 6000, display: false },
        yL: { type: 'linear', position: 'left', min: P.yl[0], max: P.yl[1], display: false },
        yR: { type: 'linear', position: 'right', min: P.yr[0], max: P.yr[1], display: false },
      },
      plugins: { legend: { display: false }, tooltip: { enabled: false } },
    },
    plugins: [decor],
  } as any;
}

function PanelChart({ P }: { P: any }) {
  const ref = useRef<HTMLCanvasElement | null>(null);
  useEffect(() => {
    const chart = new Chart(ref.current as HTMLCanvasElement, buildConfig(P));
    return () => chart.destroy();
  }, [P]);
  return (
    <canvas
      ref={ref}
      width={W}
      height={H}
      style={{ position: 'absolute', left: 0, top: 0, width: W, height: H }}
    />
  );
}

export default function App() {
  return (
    <div style={{ position: 'absolute', left: 0, top: 0, width: W, height: H, background: '#fff', overflow: 'hidden' }}>
      {PANELS.map((P) => (
        <PanelChart key={P.letter} P={P} />
      ))}
    </div>
  );
}
